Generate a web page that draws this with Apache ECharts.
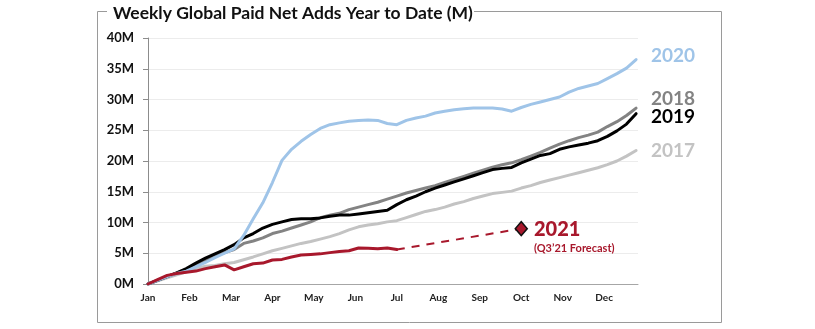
<!DOCTYPE html>
<html>
<head>
<meta charset="utf-8">
<script src="https://cdn.jsdelivr.net/npm/echarts@6/dist/echarts.min.js"></script>
<style>
  html, body { margin: 0; padding: 0; background: #ffffff; }
  #chart { width: 815px; height: 329px; }
</style>
</head>
<body>
<div id="chart"></div>
<script>
// Month tick labels (one every 52/12 weeks)
const months = ['Jan','Feb','Mar','Apr','May','Jun','Jul','Aug','Sep','Oct','Nov','Dec'];

// Cumulative paid net adds, millions, by week of year (week 0 = Jan 1)
const y2017 = [0,0.5,1.0,1.5,2.0,2.5,2.9,3.0,3.3,3.5,3.95,4.4,4.9,5.4,5.8,6.2,6.6,6.9,7.3,7.7,8.2,8.8,9.3,9.6,9.8,10.1,10.3,10.8,11.3,11.8,12.1,12.5,13.0,13.4,13.9,14.3,14.7,14.9,15.1,15.6,16.0,16.5,16.9,17.3,17.7,18.1,18.5,18.9,19.4,20.0,20.8,21.7];
const y2018 = [0,0.6,1.2,1.8,2.4,3.1,3.8,4.5,5.1,5.6,6.6,7.0,7.5,8.2,8.6,9.1,9.6,10.1,10.8,11.2,11.5,12.1,12.5,12.9,13.3,13.8,14.3,14.8,15.2,15.6,16.0,16.5,17.0,17.5,18.0,18.5,19.0,19.4,19.7,20.2,20.8,21.4,22.1,22.75,23.3,23.8,24.2,24.7,25.6,26.4,27.4,28.6];
const y2019 = [0,0.6,1.2,1.8,2.5,3.4,4.2,4.9,5.6,6.4,7.5,8.2,9.1,9.7,10.1,10.5,10.6,10.6,10.75,11.0,11.2,11.2,11.4,11.6,11.8,12.0,12.9,13.7,14.3,15.0,15.6,16.1,16.6,17.1,17.6,18.1,18.6,18.8,18.95,19.7,20.3,20.9,21.2,21.9,22.3,22.6,22.9,23.3,24.0,24.9,26.0,27.7];
const y2020 = [0,0.6,1.2,1.7,2.1,2.8,3.5,4.3,5.0,5.7,7.9,10.6,13.2,16.5,20.1,21.9,23.2,24.3,25.3,25.9,26.2,26.45,26.6,26.65,26.6,26.1,25.9,26.6,27.0,27.3,27.8,28.1,28.35,28.5,28.6,28.6,28.6,28.45,28.1,28.7,29.2,29.6,30.0,30.4,31.2,31.8,32.2,32.6,33.4,34.2,35.1,36.5];
const y2021 = [0,0.7,1.4,1.7,1.9,2.1,2.5,2.8,3.1,2.3,2.8,3.3,3.4,3.9,4.0,4.4,4.7,4.8,4.9,5.1,5.3,5.4,5.85,5.8,5.75,5.85,5.6];

// Q3'21 forecast: last actual week to the forecast point
const forecastWeeks = [26, 39];
const forecastValues = [5.6, 9.0];

// Y axis ticks, millions
const yTicks = [0, 5, 10, 15, 20, 25, 30, 35, 40];

const WEEKS_PER_MONTH = 52 / 12;
const pairs = arr => arr.map((v, i) => [i, v]);

const FONT = 'Lato';
const RED = '#a8182c';

const chart = echarts.init(document.getElementById('chart'), null, { renderer: 'canvas' });

const lineSeries = (name, data, color, z) => ({
  name, type: 'line', data: pairs(data), showSymbol: false, smooth: false, z,
  lineStyle: { color, width: 3, cap: 'round', join: 'round' }
});

chart.setOption({
  animation: false,
  backgroundColor: '#ffffff',
  grid: { left: 148, right: 177, top: 38, bottom: 45 },
  xAxis: {
    type: 'value', min: 0, max: 51.2, interval: WEEKS_PER_MONTH,
    axisLine: { show: true, lineStyle: { color: '#a6a6a6', width: 1 } },
    axisTick: { show: false },
    splitLine: { show: false },
    axisLabel: {
      margin: 9, color: '#222', fontFamily: FONT, fontWeight: 'bold', fontSize: 10,
      showMaxLabel: false,
      formatter: v => months[Math.round(v / WEEKS_PER_MONTH)] || ''
    }
  },
  yAxis: {
    type: 'value', min: yTicks[0], max: yTicks[yTicks.length - 1], interval: 5,
    axisLine: { show: true, lineStyle: { color: '#8c8c8c', width: 1 } },
    axisTick: { show: true, length: 5, inside: false, lineStyle: { color: '#8c8c8c' } },
    splitLine: { show: true, lineStyle: { color: '#ececec', width: 1 } },
    axisLabel: {
      margin: 14, color: '#111', fontFamily: FONT, fontWeight: 'bold', fontSize: 13,
      formatter: v => v + 'M'
    }
  },
  series: [
    lineSeries('2017', y2017, '#c3c3c3', 2),
    lineSeries('2018', y2018, '#838383', 3),
    lineSeries('2019', y2019, '#000000', 4),
    lineSeries('2020', y2020, '#9fc4e8', 5),
    lineSeries('2021', y2021, RED, 6),
    {
      name: 'forecast', type: 'line', data: forecastWeeks.map((w, i) => [w, forecastValues[i]]),
      showSymbol: false, z: 6,
      lineStyle: { color: RED, width: 2, type: [8, 7] }
    },
    {
      name: 'forecastPoint', type: 'scatter', z: 7,
      data: [[forecastWeeks[1], forecastValues[1]]],
      symbol: 'diamond', symbolSize: [12, 14],
      itemStyle: { color: RED, borderColor: '#111', borderWidth: 1.5, opacity: 1 },
      emphasis: { disabled: true },
      label: {
        show: true, position: 'right', distance: 6, offset: [0, 9], align: 'left', opacity: 1,
        formatter: '{a|2021}\n{b|(Q3\u201921 Forecast)}',
        rich: {
          a: { color: RED, fontFamily: FONT, fontWeight: 900, fontSize: 20, lineHeight: 21 },
          b: { color: RED, fontFamily: FONT, fontWeight: 'bold', fontSize: 11, lineHeight: 16 }
        }
      }
    }
  ],
  graphic: [
    // frame around the chart with the title breaking its top edge
    { type: 'rect', z: 0, shape: { x: 97.5, y: 11.5, width: 624, height: 311 },
      style: { fill: 'none', stroke: '#9a9a9a', lineWidth: 1 } },
    { type: 'rect', z: 1, shape: { x: 107, y: 2, width: 367, height: 20 }, style: { fill: '#ffffff' } },
    { type: 'text', z: 2, x: 113, y: 13,
      style: { text: 'Weekly Global Paid Net Adds Year to Date (M)', fill: '#111',
        font: 'bold 17.5px Lato', verticalAlign: 'middle' } },
    // series name labels at the right
    { type: 'text', x: 651, y: 56, style: { text: '2020', fill: '#9fc4e8', font: 'bold 19px Lato', verticalAlign: 'middle' } },
    { type: 'text', x: 651, y: 99, style: { text: '2018', fill: '#838383', font: 'bold 19px Lato', verticalAlign: 'middle' } },
    { type: 'text', x: 651, y: 117, style: { text: '2019', fill: '#000000', font: 'bold 19px Lato', verticalAlign: 'middle' } },
    { type: 'text', x: 651, y: 151, style: { text: '2017', fill: '#c3c3c3', font: 'bold 19px Lato', verticalAlign: 'middle' } }
  ]
});
</script>
</body>
</html>
